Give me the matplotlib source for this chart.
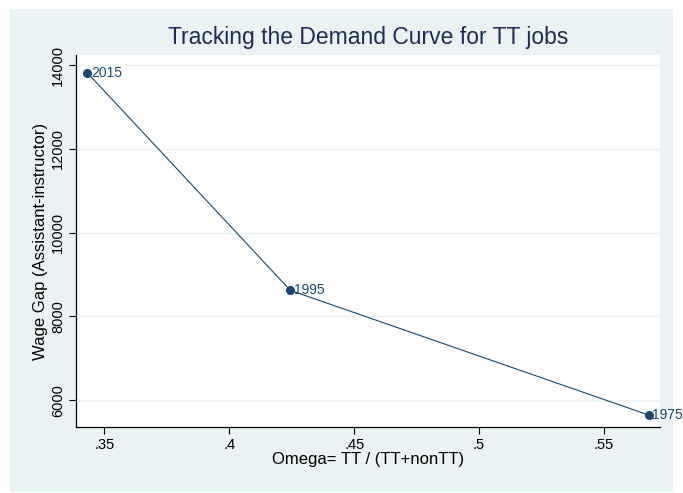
import matplotlib
matplotlib.use("Agg")
import matplotlib.pyplot as plt
from matplotlib.patches import Rectangle

# data
years = ["2015", "1995", "1975"]
omega = [0.3432, 0.4244, 0.568]
wage_gap = [13810, 8620, 5640]

x_ticks = [0.35, 0.40, 0.45, 0.50, 0.55]
x_tick_labels = [".35", ".4", ".45", ".5", ".55"]
y_ticks = [6000, 8000, 10000, 12000, 14000]

navy = "#1a476f"
bg = "#eaf2f3"

plt.rcParams["font.family"] = ["Liberation Sans", "DejaVu Sans"]

fig = plt.figure(figsize=(6.83, 4.93), dpi=100)
fig.patch.set_facecolor("white")
fig.patches.append(Rectangle((10 / 683, 1 - 492 / 493), 663 / 683, 483 / 493,
                             transform=fig.transFigure, facecolor=bg,
                             edgecolor="none", zorder=-10))

ax = fig.add_axes([76 / 683, 66 / 493, 584 / 683, 372 / 493])
ax.set_zorder(1)
ax.set_facecolor("white")

ax.plot(omega, wage_gap, color=navy, lw=0.8, marker="o", ms=5.5,
        markerfacecolor=navy, markeredgecolor=navy, clip_on=False)
for yr, xv, yv in zip(years, omega, wage_gap):
    ax.annotate(yr, (xv, yv), xytext=(2.5, 0), textcoords="offset points",
                va="center", ha="left", fontsize=10, color=navy)

ax.set_xlim(0.3386, 0.5724)
ax.set_ylim(5357, 14240)
ax.set_xticks(x_ticks)
ax.set_xticklabels(x_tick_labels)
ax.set_yticks(y_ticks)
ax.set_yticklabels([str(v) for v in y_ticks], rotation=90, va="center")
ax.tick_params(labelsize=10.5, length=5, width=0.8, color="black", pad=3)

ax.grid(axis="y", color=bg, lw=1.0)
ax.set_axisbelow(True)
for s in ["top", "right"]:
    ax.spines[s].set_visible(False)
for s in ["left", "bottom"]:
    ax.spines[s].set_linewidth(0.9)

ax.set_xlabel("Omega= TT / (TT+nonTT)", fontsize=12, labelpad=0)
ax.set_ylabel("Wage Gap (Assistant-instructor)", fontsize=12, labelpad=2)
ax.set_title("Tracking the Demand Curve for TT jobs", fontsize=16.5,
             color="#1e2d58", pad=8)

fig.savefig("out.png", dpi=100, facecolor=fig.get_facecolor())
